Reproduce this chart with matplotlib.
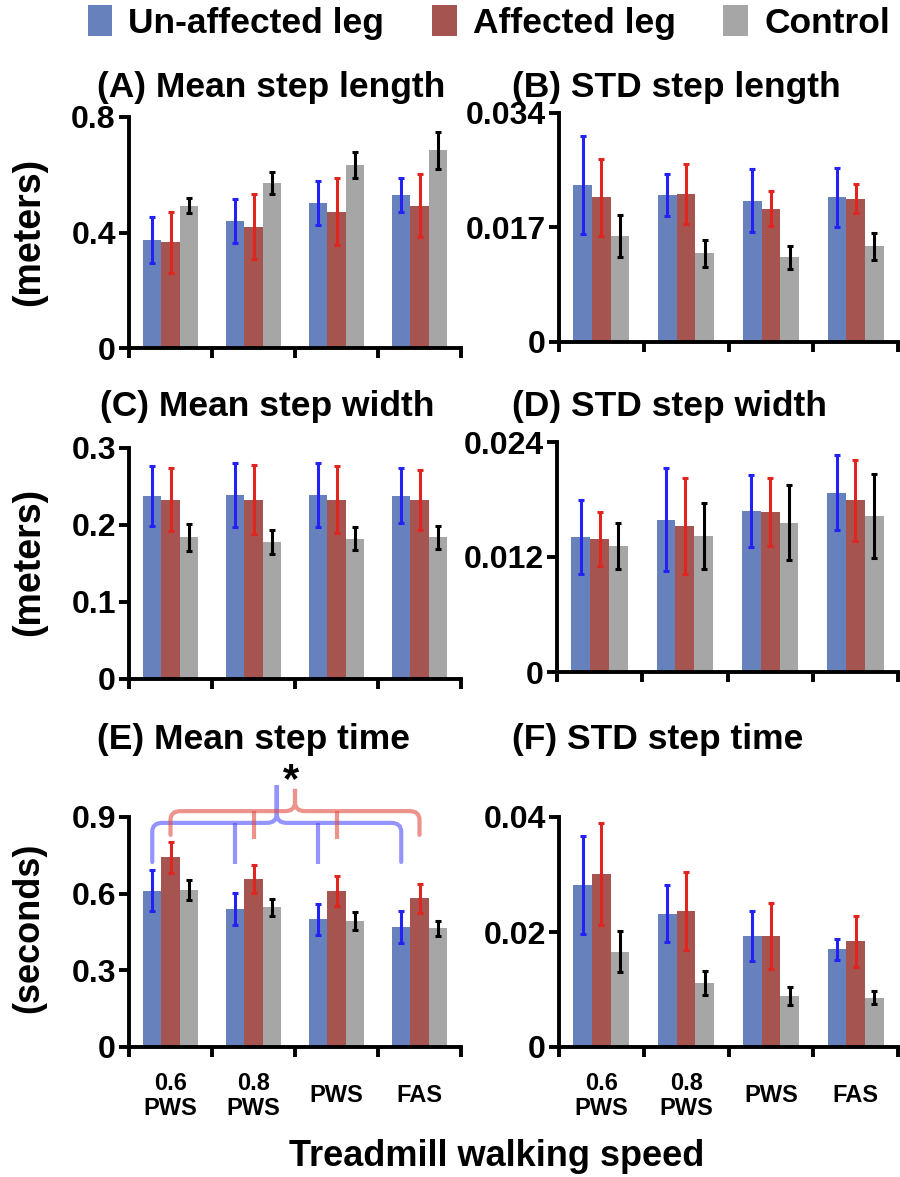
import matplotlib
matplotlib.use("Agg")
import matplotlib.pyplot as plt
import numpy as np
from matplotlib.patches import Patch, PathPatch
from matplotlib.path import Path

plt.rcParams['font.family'] = ['Liberation Sans', 'DejaVu Sans']
plt.rcParams['font.weight'] = 'bold'

# categories (x labels) and series
speeds = ["0.6\nPWS", "0.8\nPWS", "PWS", "FAS"]
groups = ["Un-affected leg", "Affected leg", "Control"]

# (A) mean step length (m): means / errors per group
len_mean_unaff = [0.374, 0.440, 0.502, 0.531]
len_mean_aff = [0.366, 0.420, 0.472, 0.493]
len_mean_ctrl = [0.493, 0.572, 0.633, 0.684]
len_mean_unaff_err = [0.078, 0.075, 0.077, 0.059]
len_mean_aff_err = [0.105, 0.113, 0.117, 0.109]
len_mean_ctrl_err = [0.027, 0.038, 0.045, 0.063]

# (B) STD step length (m)
len_std_unaff = [0.0233, 0.0218, 0.0210, 0.0215]
len_std_aff = [0.0215, 0.0220, 0.0198, 0.0213]
len_std_ctrl = [0.0157, 0.0132, 0.0126, 0.0142]
len_std_unaff_err = [0.0073, 0.0031, 0.0047, 0.0044]
len_std_aff_err = [0.0057, 0.0045, 0.0026, 0.0022]
len_std_ctrl_err = [0.0031, 0.0020, 0.0017, 0.0020]

# (C) mean step width (m)
wid_mean_unaff = [0.238, 0.239, 0.239, 0.238]
wid_mean_aff = [0.233, 0.233, 0.233, 0.232]
wid_mean_ctrl = [0.184, 0.178, 0.182, 0.184]
wid_mean_unaff_err = [0.039, 0.041, 0.041, 0.036]
wid_mean_aff_err = [0.041, 0.045, 0.044, 0.039]
wid_mean_ctrl_err = [0.0175, 0.016, 0.015, 0.015]

# (D) STD step width (m)
wid_std_unaff = [0.0141, 0.0159, 0.0168, 0.0187]
wid_std_aff = [0.0139, 0.0152, 0.0167, 0.0179]
wid_std_ctrl = [0.0132, 0.0142, 0.0156, 0.0163]
wid_std_unaff_err = [0.0039, 0.0054, 0.0038, 0.0039]
wid_std_aff_err = [0.0028, 0.0050, 0.0035, 0.0042]
wid_std_ctrl_err = [0.0024, 0.0034, 0.0039, 0.0044]

# (E) mean step time (s)
time_mean_unaff = [0.612, 0.540, 0.500, 0.470]
time_mean_aff = [0.742, 0.658, 0.611, 0.582]
time_mean_ctrl = [0.615, 0.546, 0.493, 0.464]
time_mean_unaff_err = [0.080, 0.064, 0.061, 0.063]
time_mean_aff_err = [0.060, 0.056, 0.058, 0.056]
time_mean_ctrl_err = [0.038, 0.034, 0.035, 0.031]

# (F) STD step time (s)
time_std_unaff = [0.0282, 0.0232, 0.0193, 0.0170]
time_std_aff = [0.0301, 0.0237, 0.0193, 0.0184]
time_std_ctrl = [0.0166, 0.0112, 0.0089, 0.0086]
time_std_unaff_err = [0.0085, 0.0050, 0.0043, 0.0018]
time_std_aff_err = [0.0088, 0.0068, 0.0057, 0.0044]
time_std_ctrl_err = [0.0035, 0.0021, 0.0016, 0.0011]

bar_colors = ['#6781bd', '#a6544f', '#a6a6a6']
err_colors = ['#2222f5', '#e02420', 'black']

panels = [
    ("(A) Mean step length", [len_mean_unaff, len_mean_aff, len_mean_ctrl],
     [len_mean_unaff_err, len_mean_aff_err, len_mean_ctrl_err], 0.8, [0, 0.4, 0.8], ["0", "0.4", "0.8"]),
    ("(B) STD step length", [len_std_unaff, len_std_aff, len_std_ctrl],
     [len_std_unaff_err, len_std_aff_err, len_std_ctrl_err], 0.034, [0, 0.017, 0.034], ["0", "0.017", "0.034"]),
    ("(C) Mean step width", [wid_mean_unaff, wid_mean_aff, wid_mean_ctrl],
     [wid_mean_unaff_err, wid_mean_aff_err, wid_mean_ctrl_err], 0.3, [0, 0.1, 0.2, 0.3], ["0", "0.1", "0.2", "0.3"]),
    ("(D) STD step width", [wid_std_unaff, wid_std_aff, wid_std_ctrl],
     [wid_std_unaff_err, wid_std_aff_err, wid_std_ctrl_err], 0.024, [0, 0.012, 0.024], ["0", "0.012", "0.024"]),
    ("(E) Mean step time", [time_mean_unaff, time_mean_aff, time_mean_ctrl],
     [time_mean_unaff_err, time_mean_aff_err, time_mean_ctrl_err], 0.9, [0, 0.3, 0.6, 0.9], ["0", "0.3", "0.6", "0.9"]),
    ("(F) STD step time", [time_std_unaff, time_std_aff, time_std_ctrl],
     [time_std_unaff_err, time_std_aff_err, time_std_ctrl_err], 0.04, [0, 0.02, 0.04], ["0", "0.02", "0.04"]),
]

W, H = 900, 1177
fig = plt.figure(figsize=(W / 100, H / 100), dpi=100)

# axes boxes in pixels: left, right, top(ymax), bottom(0)
boxes = [(129, 461, 117, 348), (559, 898, 113, 342),
         (129, 461, 448, 679), (557, 898, 442, 672),
         (129, 461, 817, 1047), (559, 898, 817, 1047)]
title_pos = [(97, 88), (512, 88), (100, 407), (512, 407), (97, 739), (512, 739)]

x = np.arange(len(speeds)) + 0.5
bw = 0.22
axes = []
for i, (title, means, errs, ymax, yt, ytl) in enumerate(panels):
    l, r, t, b = boxes[i]
    ax = fig.add_axes([l / W, 1 - b / H, (r - l) / W, (b - t) / H])
    axes.append(ax)
    for k in range(3):
        xs = x + (k - 1) * bw
        ax.bar(xs, means[k], bw, color=bar_colors[k], zorder=2)
        ax.errorbar(xs, means[k], yerr=errs[k], fmt='none', ecolor=err_colors[k],
                    elinewidth=2.2, capsize=2.5, capthick=2.2, zorder=3)
    ax.set_xlim(0, 4)
    ax.set_ylim(0, ymax)
    ax.set_yticks(yt)
    ax.set_yticklabels(ytl)
    ax.set_xticks(np.arange(5))
    ax.set_xticklabels([])
    for s in ['top', 'right']:
        ax.spines[s].set_visible(False)
    for s in ['left', 'bottom']:
        ax.spines[s].set_linewidth(2.8)
    ax.tick_params(which='major', length=7.5, width=2.8, labelsize=23, pad=2)
    if i >= 4:
        ax.set_xticks(x, minor=True)
        ax.set_xticklabels(speeds, minor=True, fontsize=17, fontweight='bold')
        ax.tick_params(axis='x', which='minor', length=0, pad=35)
        for lab in ax.get_xticklabels(minor=True):
            lab.set_va('center')
            lab.set_linespacing(1.1)
    for lab in ax.get_yticklabels():
        lab.set_fontweight('bold')
    tx, ty = title_pos[i]
    fig.text(tx / W, 1 - ty / H, title, ha='left', va='center', fontsize=25.5, fontweight='bold')

# y axis labels
fig.text(29 / W, 1 - 232 / H, "(meters)", rotation=90, ha='center', va='center', fontsize=27, fontweight='bold')
fig.text(29 / W, 1 - 562 / H, "(meters)", rotation=90, ha='center', va='center', fontsize=27, fontweight='bold')
fig.text(29 / W, 1 - 928 / H, "(seconds)", rotation=90, ha='center', va='center', fontsize=26, fontweight='bold')

fig.text(497 / W, 1 - 1157 / H, "Treadmill walking speed", ha='center', va='center', fontsize=26, fontweight='bold')

# legend
handles = [Patch(facecolor=c, edgecolor='none') for c in bar_colors]
fig.legend(handles, groups, loc='upper center', bbox_to_anchor=(0.543, 1.014), ncol=3, frameon=False,
           fontsize=25.5, handlelength=0.7, handleheight=1.0, handletextpad=0.45, columnspacing=1.35,
           borderpad=0.1)

# significance braces in panel E
axE = axes[4]


def brace(ax, x0, x1, xm, ticks, yb, yh, ypk, ytb, color):
    rx, ry = 0.12, 0.035
    verts = [(x0, yb), (x0, yh - ry), (x0, yh), (x0 + rx, yh),
             (xm - rx, yh), (xm, yh), (xm, yh + ry), (xm, ypk),
             (xm, yh + ry), (xm, yh), (xm + rx, yh),
             (x1 - rx, yh), (x1, yh), (x1, yh - ry), (x1, yb)]
    codes = [Path.MOVETO, Path.LINETO, Path.CURVE3, Path.CURVE3,
             Path.LINETO, Path.CURVE3, Path.CURVE3, Path.LINETO,
             Path.LINETO, Path.CURVE3, Path.CURVE3,
             Path.LINETO, Path.CURVE3, Path.CURVE3, Path.LINETO]
    ax.add_patch(PathPatch(Path(verts, codes), facecolor='none', edgecolor=color,
                           lw=3, alpha=0.6, clip_on=False, zorder=4, capstyle='round'))
    for xt in ticks:
        ax.plot([xt, xt], [yh, ytb], color=color, lw=3, alpha=0.6, clip_on=False, zorder=4,
                solid_capstyle='butt')


bx = x - bw
rx_ = x
brace(axE, bx[0], bx[3], (bx[0] + bx[3]) / 2, bx[1:3], 0.724, 0.877, 1.025, 0.716, (0.3, 0.3, 1.0))
brace(axE, rx_[0], rx_[3], (rx_[0] + rx_[3]) / 2, rx_[1:3], 0.83, 0.923, 1.01, 0.814, (0.88, 0.3, 0.25))
axE.text(1.95, 1.04, "*", ha='center', va='center', fontsize=30, fontweight='bold', clip_on=False)

fig.savefig("out.png", dpi=100)
